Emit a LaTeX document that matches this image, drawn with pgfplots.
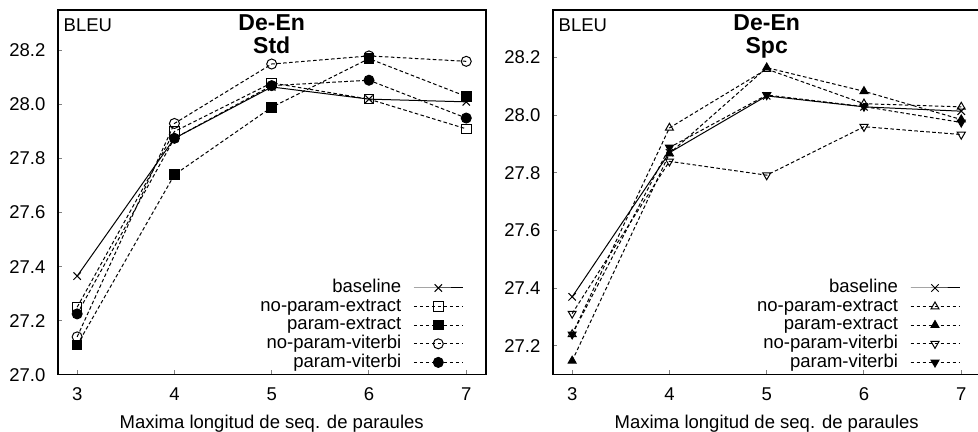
\documentclass[border=0pt]{standalone}
\usepackage{pgfplots}
\pgfplotsset{compat=1.18}
\usepackage{fontspec}
\setmainfont{Liberation Sans}
\newcommand{\fs}{\fontsize{9.25pt}{11pt}\selectfont}
\pgfplotsset{
  mystyle/.style={
    scale only axis, width=214pt, height=182.35pt,
    xmin=2.8, xmax=7.2,
    xtick={3,4,5,6,7},
    axis line style={line width=0.8pt},
    tick align=inside, xtick pos=bottom, ytick pos=left,
    major tick length=2.2pt,
    tick style={line width=0.5pt},
    font=\fs,
    /pgf/number format/assume math mode=true,
    yticklabel style={/pgf/number format/fixed, /pgf/number format/fixed zerofill, /pgf/number format/precision=1, inner xsep=0pt, xshift=-6pt},
    xticklabel style={inner sep=0pt, yshift=-6.15pt},
    xlabel={Maxima longitud de seq. de paraules},
    xlabel style={at={(0.5,0)}, anchor=north, inner sep=0pt, yshift=-20.15pt},
    legend plot pos=right,
    legend cell align=right,
    legend style={draw=none, fill=none, inner sep=0pt, outer sep=0pt, row sep=0pt, column sep=6pt,
      font=\fs, nodes={inner sep=0pt, text height=7pt, text depth=2.3pt}},
    legend image code/.code={\draw[mark repeat=2,mark phase=2,##1] plot coordinates {(0pt,0pt) (12.25pt,0pt) (24.5pt,0pt)};},
    every axis plot/.append style={line width=0.5pt, black},
  },
  dsh/.style={dash pattern=on 1.8pt off 1.2pt, mark options={solid}},
}
\begin{document}
\begin{tikzpicture}
\path[use as bounding box] (0,0) rectangle (489pt,216pt);
% Left panel
\begin{axis}[mystyle, at={(28.85pt,28.65pt)}, anchor=south west,
  ymin=27.0, ymax=28.35, ytick={27.0,27.2,27.4,27.6,27.8,28.0,28.2},
  legend style={at={(1,0)}, anchor=south east, xshift=-11.2pt, yshift=1.5pt}]
\addplot[mark=x, mark size=2.6pt] coordinates {(3,27.365)(4,27.875)(5,28.065)(6,28.02)(7,28.01)};
\addlegendentry{baseline}
\addplot[dsh, mark=square, mark size=2.4pt] coordinates {(3,27.25)(4,27.90)(5,28.08)(6,28.02)(7,27.91)};
\addlegendentry{no-param-extract}
\addplot[dsh, mark=square*, mark size=2.4pt] coordinates {(3,27.11)(4,27.74)(5,27.99)(6,28.17)(7,28.03)};
\addlegendentry{param-extract}
\addplot[dsh, mark=o, mark size=2.5pt] coordinates {(3,27.14)(4,27.93)(5,28.15)(6,28.18)(7,28.16)};
\addlegendentry{no-param-viterbi}
\addplot[dsh, mark=*, mark size=2.5pt] coordinates {(3,27.225)(4,27.875)(5,28.07)(6,28.09)(7,27.95)};
\addlegendentry{param-viterbi}
\node[anchor=north west, inner sep=0pt, font=\fs] at (rel axis cs:0,1) [xshift=2.8pt, yshift=-4.15pt] {BLEU};
\node[anchor=north, inner sep=0pt, align=center, font=\fontsize{11.5pt}{11.65pt}\selectfont\bfseries] at (rel axis cs:0.5,1) [yshift=-2pt] {De-En\\Std};
\end{axis}
% Right panel
\begin{axis}[mystyle, at={(276.35pt,28.65pt)}, anchor=south west,
  ymin=27.1, ymax=28.365, ytick={27.2,27.4,27.6,27.8,28.0,28.2},
  legend style={at={(1,0)}, anchor=south east, xshift=-10.35pt, yshift=1.5pt}]
\addplot[mark=x, mark size=2.6pt] coordinates {(3,27.37)(4,27.87)(5,28.067)(6,28.029)(7,28.014)};
\addlegendentry{baseline}
\addplot[dsh, mark=triangle, mark size=2.3pt] coordinates {(3,27.24)(4,27.956)(5,28.16)(6,28.04)(7,28.029)};
\addlegendentry{no-param-extract}
\addplot[dsh, mark=triangle*, mark size=2.3pt] coordinates {(3,27.148)(4,27.867)(5,28.165)(6,28.083)(7,27.985)};
\addlegendentry{param-extract}
\addplot[dsh, mark=triangle, mark size=2.3pt, mark options={solid, rotate=180}] coordinates {(3,27.312)(4,27.84)(5,27.792)(6,27.96)(7,27.933)};
\addlegendentry{no-param-viterbi}
\addplot[dsh, mark=triangle*, mark size=2.3pt, mark options={solid, rotate=180}] coordinates {(3,27.24)(4,27.888)(5,28.07)(6,28.03)(7,27.975)};
\addlegendentry{param-viterbi}
\node[anchor=north west, inner sep=0pt, font=\fs] at (rel axis cs:0,1) [xshift=2.8pt, yshift=-4.15pt] {BLEU};
\node[anchor=north, inner sep=0pt, align=center, font=\fontsize{11.5pt}{11.65pt}\selectfont\bfseries] at (rel axis cs:0.5,1) [yshift=-2pt] {De-En\\Spc};
\end{axis}
\end{tikzpicture}
\end{document}
